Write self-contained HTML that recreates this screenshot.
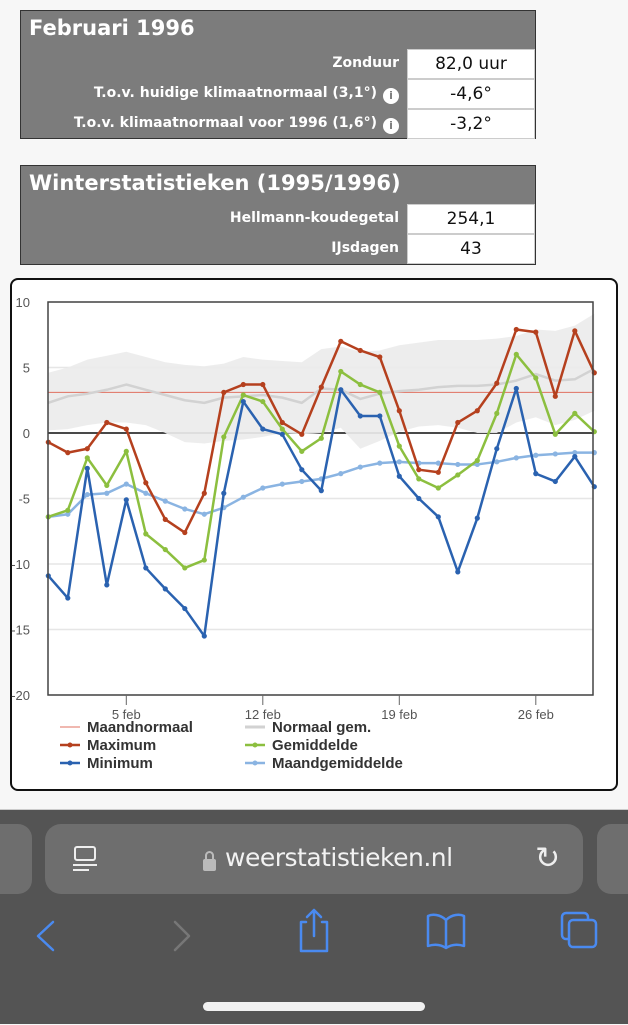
<!DOCTYPE html>
<html><head><meta charset="utf-8"><style>
*{box-sizing:border-box;margin:0;padding:0}
body{width:628px;height:1024px;background:#f7f7f7;position:relative;overflow:hidden;font-family:"Liberation Sans","DejaVu Sans",sans-serif}
.tbl{position:absolute;left:20px;width:516px;background:#7c7c7c;border:1px solid #333}
.hdr{color:#fff;font-weight:bold;font-size:21px;padding:5px 8px;height:38px;font-family:"DejaVu Sans",sans-serif}
.row{position:relative;height:30px}
.lbl{position:absolute;right:136px;top:6px;color:#fff;font-weight:bold;font-size:14px;font-family:"DejaVu Sans",sans-serif;white-space:nowrap}
.info{display:inline-block;width:16px;height:16px;border-radius:50%;background:#fff;color:#7c7c7c;font-size:11px;text-align:center;line-height:16px;margin-left:6px;vertical-align:-2px}
.val{position:absolute;right:0;top:0;width:128px;height:30px;background:#fff;border:1px solid #ccc;text-align:center;font-size:17px;line-height:28px;color:#111;font-family:"DejaVu Sans",sans-serif}
#chartbox{position:absolute;left:10px;top:278px;width:608px;height:513px;background:#fff;border:2px solid #111;border-radius:8px}
#bar{position:absolute;left:0;top:809px;width:628px;height:215px;background:#545454;border-top:1px solid #ccc}
</style></head><body>
<div class="tbl" style="top:10px;height:129px">
 <div class="hdr">Februari 1996</div>
 <div class="row"><span class="lbl">Zonduur</span><span class="val">82,0 uur</span></div>
 <div class="row"><span class="lbl">T.o.v. huidige klimaatnormaal (3,1°)<span class="info">i</span></span><span class="val">-4,6°</span></div>
 <div class="row"><span class="lbl">T.o.v. klimaatnormaal voor 1996 (1,6°)<span class="info">i</span></span><span class="val">-3,2°</span></div>
</div>
<div class="tbl" style="top:165px;height:100px">
 <div class="hdr">Winterstatistieken (1995/1996)</div>
 <div class="row"><span class="lbl">Hellmann-koudegetal</span><span class="val">254,1</span></div>
 <div class="row"><span class="lbl">IJsdagen</span><span class="val">43</span></div>
</div>
<div id="chartbox"></div>
<svg id="chart" width="628" height="800" style="position:absolute;left:0;top:0" xmlns="http://www.w3.org/2000/svg"></svg>
<div id="bar">
 <div style="position:absolute;left:-20px;top:14px;width:52px;height:70px;border-radius:14px;background:#6e6e6e"></div>
 <div style="position:absolute;left:45px;top:14px;width:538px;height:70px;border-radius:16px;background:#6e6e6e">
  <div style="position:absolute;left:28px;top:22px;width:24px;height:26px">
   <div style="position:absolute;left:1px;top:0;width:22px;height:15px;border:2px solid #eee;border-radius:3px"></div>
   <div style="position:absolute;left:0;top:18px;width:24px;height:2px;background:#eee"></div>
   <div style="position:absolute;left:0;top:23px;width:16px;height:2px;background:#eee"></div>
  </div>
  <div style="position:absolute;left:158px;top:35px;width:13px;height:12px;background:#bbb;border-radius:2px"></div>
  <div style="position:absolute;left:160px;top:27px;width:9px;height:10px;border:2px solid #bbb;border-bottom:none;border-radius:5px 5px 0 0"></div>
  <div style="position:absolute;left:180px;top:19px;font-size:25px;color:#f2f2f2;font-family:'DejaVu Sans',sans-serif;letter-spacing:-0.5px">weerstatistieken.nl</div>
  <div style="position:absolute;left:490px;top:20px;font-size:30px;color:#eee;line-height:30px">↻</div>
 </div>
 <div style="position:absolute;left:597px;top:14px;width:60px;height:70px;border-radius:14px;background:#6e6e6e"></div>
 <svg width="628" height="215" style="position:absolute;left:0;top:0" fill="none" stroke-width="2.5" stroke-linecap="round" stroke-linejoin="round">
  <path d="M53 112 L38 126 L53 140" stroke="#4a8af0"/>
  <path d="M175 112 L189 126 L175 140" stroke="#777"/>
  <g stroke="#4a8af0"><path d="M306 112 H301 V141 H327 V112 H322"/><path d="M314 101 V126 M307 107 L314 100 L321 107"/></g>
  <g stroke="#4a8af0"><path d="M446 138 V110 C440 104 432 104 428 106 V136 C434 134 440 134 446 138 C452 134 458 134 464 136 V106 C460 104 452 104 446 110"/></g>
  <g stroke="#4a8af0"><rect x="562" y="103" width="26" height="26" rx="4"/><rect x="569" y="110" width="27" height="27" rx="4" fill="#545454"/></g>
 </svg>
 <div style="position:absolute;left:203px;top:192px;width:222px;height:9px;border-radius:5px;background:#f0f0f0"></div>
</div>
<script>
const days=[1,2,3,4,5,6,7,8,9,10,11,12,13,14,15,16,17,18,19,20,21,22,23,24,25,26,27,28,29];
const maxT=[-0.7,-1.5,-1.2,0.8,0.3,-3.8,-6.6,-7.6,-4.6,3.1,3.7,3.7,0.8,-0.1,3.5,7.0,6.3,5.8,1.7,-2.8,-3.0,0.8,1.7,3.8,7.9,7.7,2.8,7.8,4.6];
const avgT=[-6.4,-5.9,-1.9,-4.0,-1.4,-7.7,-8.9,-10.3,-9.7,-0.3,2.9,2.4,0.3,-1.4,-0.4,4.7,3.7,3.1,-1.0,-3.5,-4.2,-3.2,-2.1,1.5,6.0,4.2,-0.1,1.5,0.1];
const minT=[-10.9,-12.6,-2.7,-11.6,-5.1,-10.3,-11.9,-13.4,-15.5,-4.6,2.4,0.3,-0.1,-2.8,-4.4,3.3,1.3,1.3,-3.3,-5.0,-6.4,-10.6,-6.5,-1.2,3.4,-3.1,-3.7,-1.8,-4.1];
const monthAvg=[-6.4,-6.2,-4.7,-4.6,-3.9,-4.6,-5.2,-5.8,-6.2,-5.7,-4.9,-4.2,-3.9,-3.7,-3.5,-3.1,-2.6,-2.3,-2.2,-2.3,-2.3,-2.4,-2.4,-2.2,-1.9,-1.7,-1.6,-1.5,-1.5];
const normAvg=[2.3,2.8,3.0,3.3,3.7,3.3,2.9,2.5,2.3,2.7,2.8,2.9,2.7,2.3,3.4,3.3,2.6,3.0,3.2,3.3,3.5,3.6,3.6,3.7,4.0,4.5,4.0,4.1,4.9];
const bandHigh=[4.6,5.0,5.6,5.9,6.2,5.8,5.4,5.2,5.1,5.3,5.8,5.6,5.5,5.4,6.4,6.6,6.2,6.3,6.7,6.9,7.1,7.1,7.1,7.2,7.4,7.9,7.8,8.2,9.1];
const bandLow=[0.2,0.3,0.6,0.8,0.8,0.6,0.0,-0.7,-0.8,-0.6,-0.5,-0.3,0.0,-0.1,0.0,0.4,-1.2,-0.6,0.1,0.5,0.6,0.4,0.0,0.0,0.8,1.2,0.6,1.0,1.7];
const monthNormal=3.1;
const yTicks=[10,5,0,-5,-10,-15,-20];
const xTickDays=[5,12,19,26];
const xTickLabels=["5 feb","12 feb","19 feb","26 feb"];
const svg=document.getElementById('chart');const NS='http://www.w3.org/2000/svg';
const L=48,R=593,T=302,B=695,ymin=-20,ymax=10;
const x=d=>48.3+(d-1)*19.5;
const y=v=>B-(v-ymin)/(ymax-ymin)*(B-T);
function mk(t,a){const e=document.createElementNS(NS,t);for(const k in a)e.setAttribute(k,a[k]);svg.appendChild(e);return e;}
yTicks.forEach(v=>{
 const g=mk('line',{x1:L,x2:R,y1:y(v),y2:y(v),stroke:'#e6e6e6','stroke-width':1.5});
 
 
 const t=mk('text',{x:30,y:y(v)+5,'text-anchor':'end','font-size':13,fill:'#555'});t.textContent=v;
 
 
});
const z=mk('line',{x1:L,x2:R,y1:y(0),y2:y(0),stroke:'#111','stroke-width':1.5});


let bd='M'+days.map((d,i)=>x(d)+','+y(bandHigh[i])).join(' L')+' L'+days.slice().reverse().map((d,j)=>{const i=days.length-1-j;return x(d)+','+y(bandLow[i]);}).join(' L')+'Z';
const band=mk('path',{d:bd,fill:'#ebebeb','fill-opacity':0.92});


const mn=mk('line',{x1:L,x2:R,y1:y(monthNormal),y2:y(monthNormal),stroke:'#e07060','stroke-width':1});


function series(vals,color,name,dots,w){
 const p=mk('polyline',{points:days.map((d,i)=>x(d)+','+y(vals[i])).join(' '),fill:'none',stroke:color,'stroke-width':w,'stroke-linejoin':'round'});
 
 
 if(dots)days.forEach((d,i)=>{const c=mk('circle',{cx:x(d),cy:y(vals[i]),r:2.6,fill:color});
  
  });
}
series(normAvg,'#d2d2d2','normal-avg',false,2.5);
series(monthAvg,'#8ab4e2','month-avg',true,2.5);
series(maxT,'#b5401e','maximum',true,2.5);
series(avgT,'#8cbf3f','average',true,2.5);
series(minT,'#2a62b0','minimum',true,2.5);
const fr=mk('path',{d:`M${L},${T} H${R} V${B} H${L} Z`,fill:'none',stroke:'#444','stroke-width':1.5});


xTickDays.forEach((d,i)=>{
 mk('line',{x1:x(d),x2:x(d),y1:B,y2:B+10,stroke:'#666','stroke-width':1});
 const t=mk('text',{x:x(d),y:B+24,'text-anchor':'middle','font-size':13,fill:'#555'});t.textContent=xTickLabels[i];
 
 
});
const legend=[["Maandnormaal","#e07060",60,727,1,false],["Maximum","#b5401e",60,745,2.5,true],["Minimum","#2a62b0",60,763,2.5,true],["Normaal gem.","#d2d2d2",245,727,3,false],["Gemiddelde","#8cbf3f",245,745,2.5,true],["Maandgemiddelde","#8ab4e2",245,763,2.5,true]];
legend.forEach(l=>{
 mk('line',{x1:l[2],x2:l[2]+20,y1:l[3],y2:l[3],stroke:l[1],'stroke-width':l[4]});
 if(l[5])mk('circle',{cx:l[2]+10,cy:l[3],r:2.5,fill:l[1]});
 const t=mk('text',{x:l[2]+27,y:l[3]+5,'font-size':15,'font-weight':'bold',fill:'#333'});t.textContent=l[0];
 
 
});
</script>
</body></html>
